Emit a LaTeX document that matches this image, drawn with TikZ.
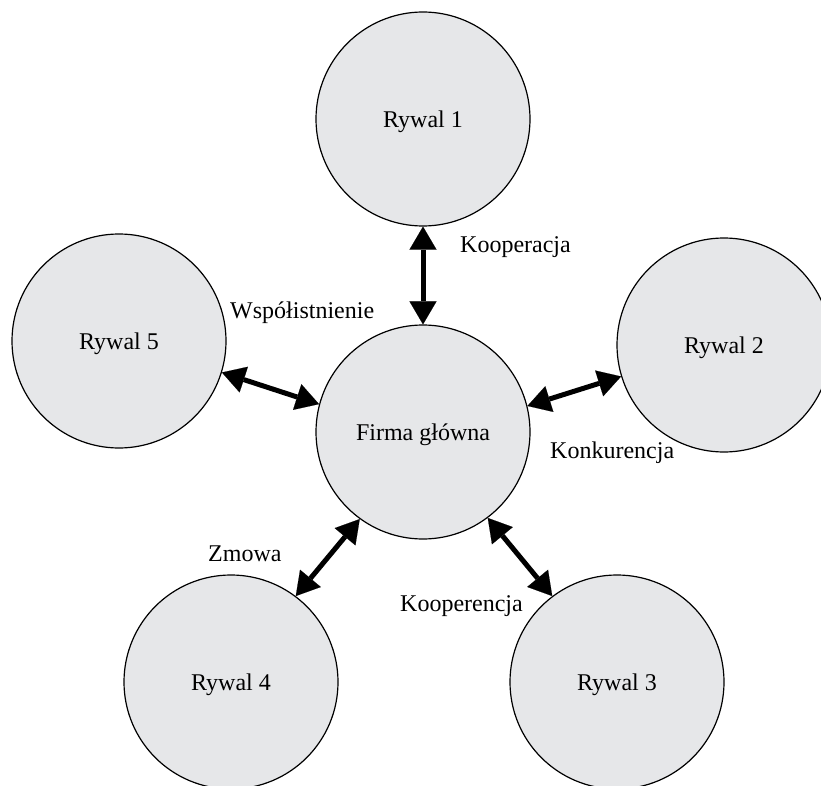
\documentclass[tikz,border=0pt]{standalone}
\usepackage{fontspec}
\setmainfont{Liberation Serif}
\usetikzlibrary{arrows.meta}
\definecolor{discfill}{RGB}{230,231,233}
\begin{document}
\begin{tikzpicture}[x=1pt,y=-1pt,
  disc/.style={circle,draw=black,line width=1.2pt,fill=discfill,
    minimum size=214pt,inner sep=0pt,text depth=0pt,
    font=\fontsize{24}{28}\selectfont},
  relation/.style={line width=5pt,
    {Triangle[length=23pt,width=27pt,line width=0.1pt]}-{Triangle[length=23pt,width=27pt,line width=0.1pt]}},
  tag/.style={anchor=base west,inner sep=0pt,font=\fontsize{24}{28}\selectfont}]
\useasboundingbox (0,0) rectangle (821,786);

% firm and its rivals
\node[disc] (firma) at (423,432) {Firma główna};
\node[disc] (r1) at (423,119) {Rywal 1};
\node[disc] (r2) at (724,345) {Rywal 2};
\node[disc] (r3) at (617,682) {Rywal 3};
\node[disc] (r4) at (231,682) {Rywal 4};
\node[disc] (r5) at (119,341) {Rywal 5};

% two-way relations
\draw[relation] (firma.90) -- (r1.-90);
\draw[relation] (firma.165) -- (r5.-17);
\draw[relation] (firma.14) -- (r2.197);
\draw[relation] (firma.-126) -- (r4.53);
\draw[relation] (firma.-53) -- (r3.127);

% relation names
\node[tag] (koop) at (460,252) {Kooperacja};
\node[tag] (wsp) at (230,318) {Współistnienie};
\node[tag] (konk) at (550,458) {Konkurencja};
\node[tag] (zmowa) at (208,561) {Zmowa};
\node[tag] (kooperencja) at (400,611) {Kooperencja};
\end{tikzpicture}
\end{document}
